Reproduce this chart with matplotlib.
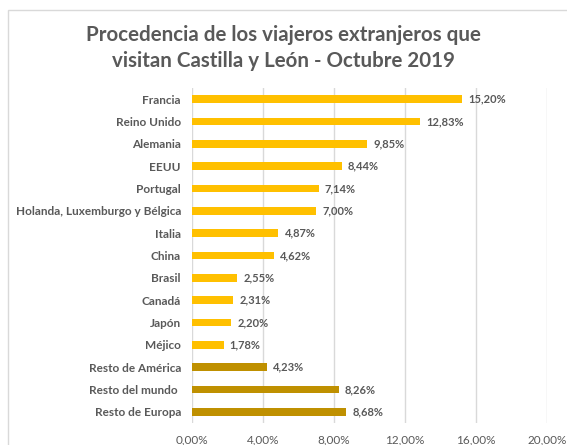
import matplotlib
matplotlib.use("Agg")
import matplotlib.pyplot as plt
from matplotlib.patches import Rectangle

categories = ["Francia", "Reino Unido", "Alemania", "EEUU", "Portugal",
              "Holanda, Luxemburgo y Bélgica", "Italia", "China", "Brasil",
              "Canadá", "Japón", "Méjico", "Resto de América", "Resto del mundo ",
              "Resto de Europa"]
values = [15.20, 12.83, 9.85, 8.44, 7.14, 7.00, 4.87, 4.62, 2.55, 2.31, 2.20, 1.78,
          4.23, 8.26, 8.68]
colors = ["#FFC000"] * 12 + ["#BF9000"] * 3
xticks = [0, 4, 8, 12, 16, 20]

plt.rcParams['font.family'] = ['Lato', 'DejaVu Sans']
txt = "#595959"

fig = plt.figure(figsize=(5.67, 4.45), dpi=100)
fig.patches.append(Rectangle((8/567, -0.1), 1.0, 1 - 10/445 + 0.1, transform=fig.transFigure,
                             fill=False, edgecolor="#D9D9D9", linewidth=1.0))
ax = fig.add_axes([192/567, 1 - 423/445, 355/567, (423 - 88)/445])

y = list(range(len(categories)))
ax.barh(y, values, height=0.33, color=colors, zorder=3)
ax.set_ylim(len(categories) - 0.5, -0.5)
ax.set_xlim(0, 20)
ax.set_xticks(xticks)
ax.set_xticklabels([f"{v:.2f}%".replace(".", ",") for v in xticks], color=txt, fontsize=8.5)
ax.set_yticks(y)
ax.set_yticklabels(categories, color=txt, fontsize=8.5, fontweight="bold")
ax.tick_params(axis="both", length=0, pad=8)
ax.tick_params(axis="x", pad=8)
ax.grid(axis="x", color="#D9D9D9", linewidth=1, zorder=0)
for s in ax.spines.values():
    s.set_visible(False)

for yi, v in zip(y, values):
    ax.text(v + 0.35, yi, f"{v:.2f}%".replace(".", ","), va="center", ha="left",
            fontsize=8, fontweight="bold", color=txt)

fig.text(0.5, 1 - 48/445, "Procedencia de los viajeros extranjeros que\nvisitan Castilla y León - Octubre 2019",
         ha="center", va="center", fontsize=14.8, fontweight="bold", color=txt, linespacing=1.35)

fig.savefig("out.png", dpi=100)
